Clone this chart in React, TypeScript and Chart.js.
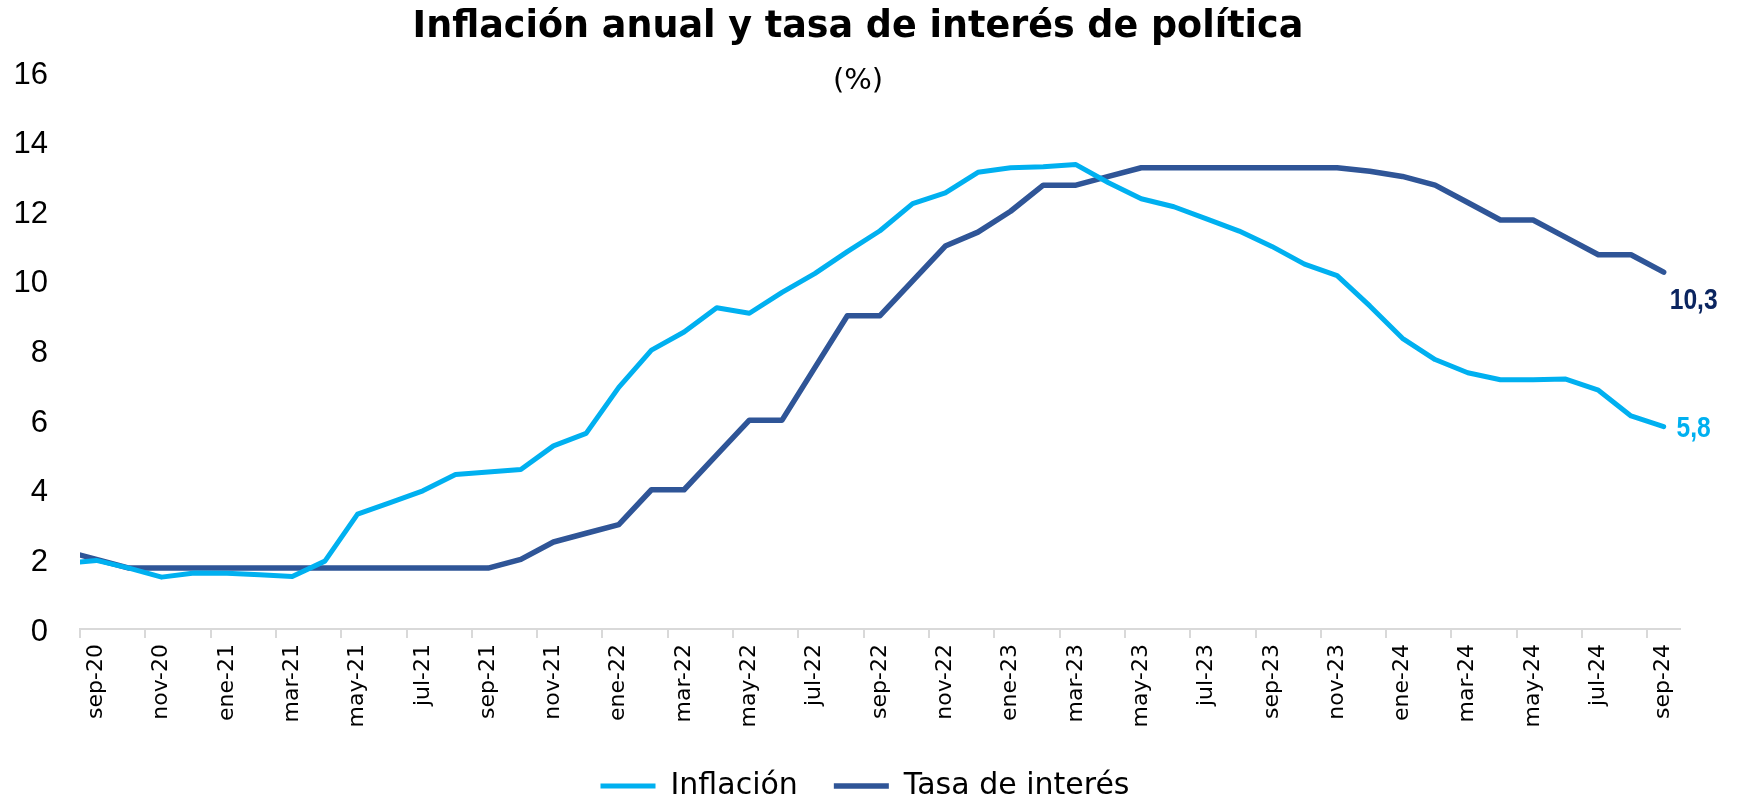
import React, { useEffect, useRef } from 'react';
import { Chart, registerables } from 'chart.js';

Chart.register(...registerables);

// Monthly categories (ago-20 only feeds the clipped stub at the left edge)
const MONTHS: string[] = [
  'ago-20', 'sep-20', 'oct-20', 'nov-20', 'dic-20',
  'ene-21', 'feb-21', 'mar-21', 'abr-21', 'may-21', 'jun-21', 'jul-21', 'ago-21', 'sep-21', 'oct-21', 'nov-21', 'dic-21',
  'ene-22', 'feb-22', 'mar-22', 'abr-22', 'may-22', 'jun-22', 'jul-22', 'ago-22', 'sep-22', 'oct-22', 'nov-22', 'dic-22',
  'ene-23', 'feb-23', 'mar-23', 'abr-23', 'may-23', 'jun-23', 'jul-23', 'ago-23', 'sep-23', 'oct-23', 'nov-23', 'dic-23',
  'ene-24', 'feb-24', 'mar-24', 'abr-24', 'may-24', 'jun-24', 'jul-24', 'ago-24', 'sep-24',
];

const FIRST_SHOWN = 'sep-20';

const INFLACION: number[] = [
  1.88, 1.97, 1.75, 1.49, 1.61,
  1.60, 1.56, 1.51, 1.95, 3.30, 3.63, 3.97, 4.44, 4.51, 4.58, 5.26, 5.62,
  6.94, 8.01, 8.53, 9.23, 9.07, 9.67, 10.21, 10.84, 11.44, 12.22, 12.53, 13.12,
  13.25, 13.28, 13.34, 12.82, 12.36, 12.13, 11.78, 11.43, 10.99, 10.48, 10.15, 9.28,
  8.35, 7.74, 7.36, 7.16, 7.16, 7.18, 6.86, 6.12, 5.81,
];

const TASA: number[] = [
  2.25, 2.0, 1.75, 1.75, 1.75,
  1.75, 1.75, 1.75, 1.75, 1.75, 1.75, 1.75, 1.75, 1.75, 2.0, 2.5, 2.75,
  3.0, 4.0, 4.0, 5.0, 6.0, 6.0, 7.5, 9.0, 9.0, 10.0, 11.0, 11.4,
  12.0, 12.75, 12.75, 13.0, 13.25, 13.25, 13.25, 13.25, 13.25, 13.25, 13.25, 13.15,
  13.0, 12.75, 12.25, 11.75, 11.75, 11.25, 10.75, 10.75, 10.25,
];

const SERIES_NAMES: string[] = ['Inflación', 'Tasa de interés'];
const Y_TICKS: number[] = [0, 2, 4, 6, 8, 10, 12, 14, 16];

const TITLE = 'Inflación anual y tasa de interés de política';
const SUBTITLE = '(%)';

const COLORS = ['#00B0F0', '#2F5597'];
const END_LABEL_COLORS = ['#00B0F0', '#0B2560'];
const END_LABEL_DX = 30;
const END_LABEL_DY = [2, 29];

const titlePlugin = {
  id: 'titleBlock',
  afterDraw(chart: any) {
    const ctx = chart.ctx;
    ctx.save();
    ctx.fillStyle = '#000';
    ctx.textAlign = 'center';
    ctx.textBaseline = 'middle';
    ctx.font = "bold 36.5px 'DejaVu Sans', sans-serif";
    ctx.fillText(TITLE, 858, 28);
    ctx.font = "29px 'DejaVu Sans', sans-serif";
    ctx.fillText(SUBTITLE, 858, 81);
    ctx.restore();
  },
};

const endLabelPlugin = {
  id: 'endLabels',
  afterDatasetsDraw(chart: any) {
    const ctx = chart.ctx;
    chart.data.datasets.forEach((ds: any, i: number) => {
      const meta = chart.getDatasetMeta(i);
      const pts = meta.data;
      const pt = pts[pts.length - 1];
      const v = ds.data[ds.data.length - 1] as number;
      ctx.save();
      ctx.font = "bold 30px 'Liberation Sans', Arial, sans-serif";
      ctx.fillStyle = END_LABEL_COLORS[i];
      ctx.textAlign = 'center';
      ctx.textBaseline = 'middle';
      // slightly condensed look of the original label font
      ctx.translate(pt.x + END_LABEL_DX, pt.y + END_LABEL_DY[i]);
      ctx.scale(0.82, 1);
      ctx.fillText(v.toFixed(1).replace('.', ','), 0, 0);
      ctx.restore();
    });
  },
};

export default function App() {
  const ref = useRef<HTMLCanvasElement | null>(null);

  useEffect(() => {
    document.body.style.margin = '0';
    const canvas = ref.current;
    if (!canvas) return;
    const tickCount = MONTHS.length - MONTHS.indexOf(FIRST_SHOWN);
    const tickMarkColor = (c: any) => (c.index % 2 === 0 && c.index < tickCount ? '#D9D9D9' : 'rgba(0,0,0,0)');
    const chart = new Chart(canvas, {
      type: 'line',
      data: {
        labels: MONTHS,
        datasets: [
          {
            label: SERIES_NAMES[0],
            data: INFLACION,
            borderColor: COLORS[0],
            backgroundColor: COLORS[0],
            borderWidth: 5,
            pointRadius: 0,
            pointHoverRadius: 0,
            tension: 0,
            borderCapStyle: 'round',
            borderJoinStyle: 'round',
            yAxisID: 'y',
          },
          {
            label: SERIES_NAMES[1],
            data: TASA,
            borderColor: COLORS[1],
            backgroundColor: COLORS[1],
            borderWidth: 5.5,
            pointRadius: 0,
            pointHoverRadius: 0,
            tension: 0,
            borderCapStyle: 'round',
            borderJoinStyle: 'round',
            yAxisID: 'y',
          },
        ],
      },
      options: {
        responsive: false,
        maintainAspectRatio: false,
        animation: false,
        devicePixelRatio: 1,
        layout: { padding: { top: 72, left: 8, right: 28, bottom: -8 } },
        plugins: {
          legend: {
            position: 'bottom',
            labels: {
              usePointStyle: true,
              pointStyle: 'line',
              pointStyleWidth: 55,
              padding: 36,
              color: '#000',
              font: { family: "'DejaVu Sans', sans-serif", size: 30 },
            },
          },
          title: { display: false },
          tooltip: { enabled: false },
        },
        scales: {
          x: {
            type: 'category',
            min: FIRST_SHOWN,
            offset: true,
            grid: {
              offset: true,
              drawOnChartArea: false,
              drawTicks: true,
              tickLength: 9,
              lineWidth: 2,
              color: tickMarkColor,
              tickColor: tickMarkColor,
            },
            border: { display: true, color: '#D9D9D9', width: 2 },
            ticks: {
              autoSkip: false,
              minRotation: 90,
              maxRotation: 90,
              padding: 6,
              color: '#000',
              font: { family: "'DejaVu Sans', sans-serif", size: 22 },
              callback: (value: any, index: number) => (index % 2 === 0 ? MONTHS[value as number] : ''),
            },
            afterFit: (scale: any) => {
              scale.height = 106;
            },
          },
          y: {
            position: 'left',
            min: Y_TICKS[0],
            max: Y_TICKS[Y_TICKS.length - 1],
            grid: { display: false, drawTicks: false },
            border: { display: false },
            ticks: {
              stepSize: Y_TICKS[1] - Y_TICKS[0],
              padding: 32,
              labelOffset: 3,
              color: '#000',
              font: { family: "'Liberation Sans', Arial, sans-serif", size: 31 },
            },
            afterFit: (scale: any) => {
              scale.width = 72;
            },
          },
          // empty right-hand box that keeps room for the end labels
          yR: {
            position: 'right',
            display: true,
            grid: { display: false, drawTicks: false },
            border: { display: false },
            ticks: { display: false },
            afterFit: (scale: any) => {
              scale.width = 42;
            },
          },
        },
      },
      plugins: [titlePlugin, endLabelPlugin],
    } as any);
    return () => chart.destroy();
  }, []);

  return (
    <div style={{ position: 'fixed', left: 0, top: 0, width: 1750, height: 803, background: '#fff' }}>
      <canvas ref={ref} width={1750} height={803} style={{ display: 'block', width: 1750, height: 803 }} />
    </div>
  );
}
